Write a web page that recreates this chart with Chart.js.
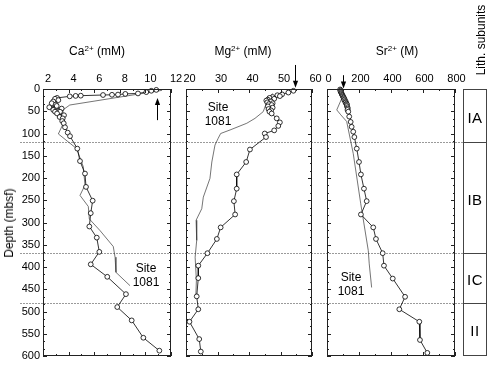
<!DOCTYPE html>
<html lang="en">
<head>
<meta charset="UTF-8" />
<title>Ca, Mg, Sr pore water profiles</title>
<script src="https://cdn.jsdelivr.net/npm/chart.js"></script>
<style>
  body { margin: 0; background: #fff; font-family: "Liberation Sans", Arial, sans-serif; color: #000; }
  #wrap { position: relative; width: 500px; height: 367px; overflow: hidden; }
  #wrap canvas { position: absolute; left: 0; top: 0; }
  .lbl { position: absolute; transform: translate(-50%, -50%); white-space: nowrap; font-size: 12px; line-height: 1; }
  .title .sup { font-size: 8px; position: relative; top: -4px; }
  .site { text-align: center; line-height: 13.5px; }
  .rot { transform: translate(-50%, -50%) rotate(-90deg); }
  .unit { font-size: 15px; letter-spacing: 0.5px; }
</style>
</head>
<body>
<div id="wrap">
  <canvas id="caChart" width="500" height="367"></canvas>
  <canvas id="mgChart" width="500" height="367"></canvas>
  <canvas id="srChart" width="500" height="367"></canvas>

  <div class="lbl title" style="left:97px;top:51px">Ca<span class="sup">2+</span> (mM)</div>
  <div class="lbl title" style="left:243px;top:51px">Mg<span class="sup">2+</span> (mM)</div>
  <div class="lbl title" style="left:397px;top:51px">Sr<span class="sup">2+</span> (M)</div>
  <div class="lbl rot" style="left:9px;top:223px">Depth (mbsf)</div>
  <div class="lbl rot" style="left:481px;top:40px">Lith. subunits</div>
  <div class="lbl site" style="left:146px;top:275px">Site<br>1081</div>
  <div class="lbl site" style="left:218px;top:114px">Site<br>1081</div>
  <div class="lbl site" style="left:351px;top:284px">Site<br>1081</div>
  <div id="units"></div>
</div>

<script>
  // tick labels
  const caTicks = [2, 4, 6, 8, 10, 12];
  const mgTicks = [20, 30, 40, 50, 60];
  const srTicks = [0, 200, 400, 600, 800];
  const depthTicks = [0, 50, 100, 150, 200, 250, 300, 350, 400, 450, 500, 550, 600];

  // Ca2+ (mM), this site (circles)
  const caDepth = [2, 4, 7, 10, 11, 12.5, 13, 13.5, 15, 15.5, 16.5, 20, 22, 25, 28, 32, 35, 38, 41, 44, 47, 51, 51, 55, 59, 63, 66, 72, 77, 86, 98, 106, 134, 162, 190, 220, 251, 279, 309, 334, 366, 394, 422, 461, 490, 520, 559, 588];
  const caValue = [10.85, 10.46, 10.07, 9.42, 8.43, 7.86, 7.39, 6.69, 4.95, 4.55, 4.09, 3.1, 2.94, 3.2, 2.8, 2.68, 3.0, 3.07, 2.49, 3.46, 2.8, 2.94, 3.33, 3.1, 3.64, 3.3, 3.54, 3.5, 3.62, 3.72, 3.93, 4.11, 4.68, 4.89, 5.28, 5.36, 5.88, 5.73, 5.62, 6.2, 6.4, 5.73, 7.02, 8.48, 7.8, 8.93, 9.84, 11.09];
  // Ca2+, Site 1081 (line)
  const caSiteDepth = [3, 36, 47, 77, 101, 134, 175, 216, 239, 264, 292, 318, 354, 378, 412, 442];
  const caSiteValue = [11.3, 4.09, 3.56, 3.59, 3.2, 4.63, 5.15, 5.28, 4.89, 5.54, 5.62, 6.45, 7.49, 7.63, 7.7, 8.8];

  // Mg2+ (mM)
  const mgDepth = [4, 8, 12, 14, 16, 18, 20, 22, 24, 26, 28, 30, 32, 34, 36, 39, 42, 45, 48, 51, 55, 66, 75, 83, 93, 100, 108, 136, 164, 192, 224, 252, 282, 311, 337, 369, 397, 425, 466, 495, 523, 562, 590];
  const mgValue = [54.1, 52.5, 50.5, 49.0, 49.8, 47.5, 46.5, 48.0, 46.0, 45.5, 47.0, 45.8, 47.5, 46.3, 47.2, 46.0, 47.5, 46.2, 47.0, 46.5, 47.2, 48.8, 49.8, 49.3, 48.0, 45.0, 45.4, 40.3, 39.1, 36.1, 36.1, 35.2, 35.6, 31.0, 29.8, 26.8, 23.9, 23.9, 23.4, 23.9, 21.1, 24.2, 24.7];
  const mgSiteDepth = [10, 21, 51, 66, 77, 92, 100, 111, 126, 164, 201, 243, 269, 295, 340, 378, 430, 470];
  const mgSiteValue = [47.5, 46.1, 44.5, 41.9, 39.3, 34.0, 31.0, 30.2, 29.2, 28.2, 27.6, 25.5, 25.0, 23.2, 23.4, 22.9, 23.3, 23.1];

  // Sr2+
  const srDepth = [1, 3, 5, 7, 9, 11, 13, 15, 17, 19, 21, 23, 25, 27, 29, 31, 33, 35, 38, 41, 44, 47, 51, 62, 74, 85, 96, 108, 134, 164, 192, 224, 252, 282, 311, 337, 369, 397, 426, 467, 495, 523, 564, 593];
  const srValue = [82, 85, 84, 88, 90, 92, 95, 98, 100, 104, 106, 110, 108, 114, 118, 116, 122, 125, 124, 128, 130, 128, 133, 139, 148, 154, 164, 171, 186, 200, 212, 231, 248, 212, 289, 306, 348, 356, 411, 488, 452, 577, 581, 627];
  const srSiteDepth = [13, 47, 58, 73, 145, 258, 363, 393, 446];
  const srSiteValue = [102, 61, 86, 123, 164, 211, 258, 264, 279];

  // seawater arrows (value, tail depth, tip depth)
  const caArrow = { value: 10.9, from: 70, to: 20 };
  const mgArrow = { value: 54.6, from: -54, to: -3 };
  const srArrow = { value: 98, from: -31, to: -1 };

  // lithologic subunit boundaries (mbsf)
  const lithNames = ["IA", "IB", "IC", "II"];
  const lithBounds = [0, 120, 369, 480, 600];

  const FONT = "'Liberation Sans', Arial, sans-serif";

  const pts = (d, v) => d.map((dep, i) => ({ x: v[i], y: dep }));

  const panelFrame = {
    id: "panelFrame",
    beforeDatasetsDraw(chart, args, o) {
      if (!o.unitLines) return;
      const { ctx, scales: { y } } = chart;
      ctx.save();
      ctx.strokeStyle = "#9a9a9a";
      ctx.lineWidth = 1;
      ctx.setLineDash([2, 1]);
      lithBounds.slice(1, -1).forEach((d) => {
        const py = Math.round(y.getPixelForValue(d)) + 0.5;
        ctx.beginPath();
        ctx.moveTo(20, py);
        ctx.lineTo(487, py);
        ctx.stroke();
      });
      ctx.restore();
    },
    afterDatasetsDraw(chart, args, o) {
      const { ctx, chartArea: a, scales: { x, y } } = chart;
      ctx.save();
      ctx.strokeStyle = "#222";
      ctx.fillStyle = "#000";
      ctx.lineWidth = 1;
      ctx.strokeRect(a.left + 0.5, a.top + 0.5, a.right - a.left - 1, a.bottom - a.top - 1);

      // inward ticks, all four sides
      ctx.beginPath();
      for (let v = x.min; v <= x.max + 1e-6; v += o.xMinor) {
        const len = o.xTicks.some((t) => Math.abs(t - v) < 1e-6) ? 4 : 2;
        const px = Math.round(x.getPixelForValue(v)) + 0.5;
        ctx.moveTo(px, a.top); ctx.lineTo(px, a.top + len);
        ctx.moveTo(px, a.bottom); ctx.lineTo(px, a.bottom - len);
      }
      for (let v = 0; v <= 600 + 1e-6; v += 50 / 3) {
        const len = depthTicks.some((t) => Math.abs(t - v) < 1e-3) ? 4 : 2;
        const py = Math.round(y.getPixelForValue(v)) + 0.5;
        ctx.moveTo(a.left, py); ctx.lineTo(a.left + len, py);
        ctx.moveTo(a.right, py); ctx.lineTo(a.right - len, py);
      }
      ctx.stroke();

      // seawater arrow
      const ar = o.arrow;
      const ax = Math.round(x.getPixelForValue(ar.value)) + 0.5;
      const y0 = y.getPixelForValue(ar.from), y1 = y.getPixelForValue(ar.to);
      const dir = Math.sign(y1 - y0);
      ctx.strokeStyle = "#000";
      ctx.beginPath();
      ctx.moveTo(ax, y0);
      ctx.lineTo(ax, y1 - dir * 5);
      ctx.stroke();
      ctx.beginPath();
      ctx.moveTo(ax, y1);
      ctx.lineTo(ax - 2.6, y1 - dir * 7);
      ctx.lineTo(ax + 2.6, y1 - dir * 7);
      ctx.closePath();
      ctx.fill();

      // lithology column
      if (o.lith) {
        const left = 463.5, right = 486.5;
        ctx.strokeStyle = "#444";
        ctx.strokeRect(left, a.top + 0.5, right - left, a.bottom - a.top - 1);
        ctx.beginPath();
        lithBounds.slice(1, -1).forEach((d) => {
          const py = Math.round(y.getPixelForValue(d)) + 0.5;
          ctx.moveTo(left, py); ctx.lineTo(right, py);
        });
        ctx.stroke();
      }
      ctx.restore();
    },
  };

  function makePanel(id, cfg) {
    return new Chart(document.getElementById(id), {
      type: "line",
      data: {
        datasets: [
          {
            label: "This site",
            data: pts(cfg.depth, cfg.value),
            borderColor: "#000",
            borderWidth: 0.8,
            pointRadius: 2.4,
            pointBackgroundColor: "#fff",
            pointBorderColor: "#000",
            pointBorderWidth: 0.8,
            tension: 0,
            clip: 4,
          },
          {
            label: "Site 1081",
            data: pts(cfg.siteDepth, cfg.siteValue),
            borderColor: "#3a3a3a",
            borderWidth: 0.7,
            pointRadius: 0,
            tension: 0,
          },
        ],
      },
      options: {
        responsive: false,
        animation: false,
        events: [],
        // the y axis always takes 43px, so the left padding puts each frame in place
        layout: { autoPadding: false, padding: { left: cfg.frameLeft - 43, right: 500 - cfg.frameRight, top: 0, bottom: 11 } },
        plugins: {
          legend: { display: false },
          tooltip: { enabled: false },
          panelFrame: { xTicks: cfg.ticks, xMinor: cfg.minor, arrow: cfg.arrow, unitLines: cfg.unitLines, lith: cfg.lith },
        },
        scales: {
          x: {
            type: "linear",
            position: "top",
            min: cfg.min,
            max: cfg.max,
            grid: { display: false, drawTicks: false },
            border: { display: false },
            ticks: {
              color: "#000",
              font: { family: FONT, size: 11 },
              padding: 3,
              labelOffset: cfg.labelOffset,
              maxRotation: 0,
              autoSkip: false,
            },
            afterBuildTicks: (s) => { s.ticks = cfg.ticks.map((v) => ({ value: v })); },
            afterFit: (s) => { s.height = 89; },
          },
          y: {
            type: "linear",
            reverse: true,
            min: 0,
            max: 600,
            grid: { display: false, drawTicks: false },
            border: { display: false },
            ticks: { display: cfg.showY, color: "#000", font: { family: FONT, size: 11 }, padding: 3, autoSkip: false },
            afterBuildTicks: (s) => { s.ticks = depthTicks.map((v) => ({ value: v })); },
            afterFit: (s) => { s.width = 43; },
          },
        },
      },
      plugins: [panelFrame],
    });
  }

  makePanel("caChart", {
    depth: caDepth, value: caValue, siteDepth: caSiteDepth, siteValue: caSiteValue,
    min: 2, max: 12, ticks: caTicks, minor: 1, labelOffset: 5,
    frameLeft: 43, frameRight: 171, showY: true, arrow: caArrow, unitLines: true,
  });
  makePanel("mgChart", {
    depth: mgDepth, value: mgValue, siteDepth: mgSiteDepth, siteValue: mgSiteValue,
    min: 20, max: 60, ticks: mgTicks, minor: 5, labelOffset: 3.5,
    frameLeft: 186, frameRight: 312, showY: false, arrow: mgArrow,
  });
  const srChart = makePanel("srChart", {
    depth: srDepth, value: srValue, siteDepth: srSiteDepth, siteValue: srSiteValue,
    min: 0, max: 800, ticks: srTicks, minor: 100, labelOffset: 1.5,
    frameLeft: 327, frameRight: 455, showY: false, arrow: srArrow, lith: true,
  });

  // subunit labels, centred in each interval
  const ys = srChart.scales.y;
  const units = document.getElementById("units");
  lithNames.forEach((name, i) => {
    const el = document.createElement("div");
    el.className = "lbl unit";
    el.textContent = name;
    el.style.left = "475px";
    el.style.top = (ys.getPixelForValue(lithBounds[i]) + ys.getPixelForValue(lithBounds[i + 1])) / 2 + 1 + "px";
    units.appendChild(el);
  });
</script>
</body>
</html>
